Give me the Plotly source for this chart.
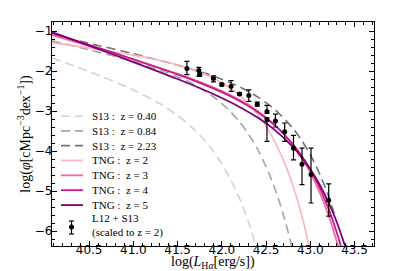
import plotly.graph_objects as go

# ---- S13 Schechter curves ----
s13_040_x = [40.08, 40.5, 41.0, 41.3, 41.5, 41.7, 41.786, 41.9, 42.0, 42.1, 42.2, 42.3, 42.4]
s13_040_y = [-1.675, -2.014, -2.473, -2.820, -3.113, -3.489, -3.688, -3.998, -4.325, -4.717, -5.191, -5.768, -6.477]

s13_084_x = [40.08, 40.5, 41.0, 41.3, 41.5, 41.7, 41.9, 42.0, 42.1, 42.2, 42.3, 42.4, 42.5, 42.6, 42.7, 42.8]
s13_084_y = [-1.247, -1.469, -1.761, -1.972, -2.144, -2.357, -2.637, -2.813, -3.022, -3.272, -3.574, -3.941, -4.390, -4.942, -5.626, -6.471]

s13_223_x = [40.08, 40.5, 41.0, 41.5, 41.8, 42.0, 42.2, 42.4, 42.6, 42.8, 42.9, 43.0, 43.1, 43.2, 43.27]
s13_223_y = [-1.095, -1.308, -1.568, -1.852, -2.050, -2.207, -2.397, -2.640, -2.966, -3.425, -3.727, -4.094, -4.543, -5.095, -5.560]

# ---- TNG curves ----
tng2_x = [40.08, 40.5, 41.0, 41.3, 41.5, 41.7, 41.9, 42.0, 42.1, 42.2, 42.3, 42.4, 42.5, 42.6, 42.7, 42.8, 42.9, 43.0]
tng2_y = [-1.290, -1.425, -1.604, -1.738, -1.848, -1.989, -2.176, -2.295, -2.438, -2.609, -2.818, -3.072, -3.384, -3.770, -4.248, -4.841, -5.581, -6.504]

tng3_x = [40.08, 40.5, 41.0, 41.5, 41.8, 42.0, 42.2, 42.4, 42.6, 42.8, 42.9, 43.0, 43.1, 43.2, 43.3, 43.32]
tng3_y = [-1.101, -1.377, -1.713, -2.071, -2.315, -2.502, -2.722, -2.995, -3.351, -3.840, -4.157, -4.539, -5.003, -5.570, -6.269, -6.425]

tng4_x = [40.08, 40.5, 41.0, 41.5, 41.8, 42.0, 42.2, 42.4, 42.6, 42.8, 42.9, 43.0, 43.1, 43.2, 43.3, 43.35]
tng4_y = [-1.050, -1.346, -1.706, -2.085, -2.339, -2.529, -2.750, -3.017, -3.359, -3.819, -4.113, -4.465, -4.891, -5.409, -6.042, -6.411]

tng5_x = [40.08, 40.5, 41.0, 41.5, 41.8, 42.0, 42.2, 42.4, 42.6, 42.8, 42.9, 43.0, 43.1, 43.2, 43.3, 43.4]
tng5_y = [-1.030, -1.368, -1.776, -2.200, -2.474, -2.674, -2.898, -3.159, -3.479, -3.893, -4.152, -4.456, -4.818, -5.254, -5.782, -6.425]

# ---- L12 + S13 data (scaled to z=2) ----
obs_x = [41.605, 41.74, 41.75, 41.905, 42.0, 42.105, 42.20, 42.305, 42.40, 42.51, 42.51, 42.606, 42.71, 42.81, 42.906, 43.008, 43.208]
obs_y = [-1.94, -1.99, -2.09, -2.19, -2.34, -2.38, -2.575, -2.61, -2.83, -3.01, -3.22, -3.25, -3.52, -3.93, -4.33, -4.59, -5.23]
obs_ep = [0.18, 0.08, 0.04, 0.07, 0.03, 0.14, 0.03, 0.14, 0.05, 0.15, 0.05, 0.17, 0.22, 0.32, 0.40, 0.66, 0.41]
obs_em = [0.15, 0.14, 0.04, 0.08, 0.03, 0.13, 0.03, 0.15, 0.05, 0.05, 0.54, 0.15, 0.24, 0.29, 0.51, 0.71, 0.40]

x_ticks = [40.5, 41.0, 41.5, 42.0, 42.5, 43.0, 43.5]
y_ticks = [-1, -2, -3, -4, -5, -6]

line_names = ["S13 :  z = 0.40", "S13 :  z = 0.84", "S13 :  z = 2.23",
              "TNG :  z = 2", "TNG :  z = 3", "TNG :  z = 4", "TNG :  z = 5"]
data_name = "L12 + S13<br>(scaled to z = 2)"
x_title = "log(<i>L</i><sub>H<i>α</i></sub>[erg/s])"
y_title = "log(<i>φ</i>[cMpc<sup>−3</sup>dex<sup>−1</sup>])"

line_styles = [
    ("#d3d3d3", 1.6, "9px,5px"),
    ("#a5a5a5", 1.6, "9px,5px"),
    ("#747474", 1.6, "9px,5px"),
    ("#fbb4b9", 1.6, "solid"),
    ("#f768a1", 1.8, "solid"),
    ("#c51b8a", 1.8, "solid"),
    ("#7a0177", 1.8, "solid"),
]
series = [(s13_040_x, s13_040_y), (s13_084_x, s13_084_y), (s13_223_x, s13_223_y),
          (tng2_x, tng2_y), (tng3_x, tng3_y), (tng4_x, tng4_y), (tng5_x, tng5_y)]

fig = go.Figure()
for (xs, ys), name, (col, w, dash) in zip(series, line_names, line_styles):
    fig.add_trace(go.Scatter(
        x=xs, y=ys, mode="lines", name=name, showlegend=False,
        line=dict(color=col, width=w, dash=dash, shape="spline", smoothing=0.8),
    ))

fig.add_trace(go.Scatter(
    x=obs_x, y=obs_y, mode="markers", name=data_name, showlegend=False,
    marker=dict(color="black", size=5),
    error_y=dict(type="data", symmetric=False, array=obs_ep, arrayminus=obs_em,
                 color="black", thickness=1.2, width=2.5),
))

# ---- hand-placed legend (compact, like the reference) ----
PX_L, PX_R, PX_T, PX_B = 44, 366, 14, 238
def px2paper(px, py):
    return (px - PX_L) / (PX_R - PX_L), (PX_B - py) / (PX_B - PX_T)

legend_font = dict(family="Liberation Serif", size=11, color="black")
row_y = [108.3, 122.9, 137.6, 152.4, 167.3, 182.2, 197.1]
shapes = []
annotations = []
for (col, w, dash), name, ry in zip(line_styles, line_names, row_y):
    x0, y0 = px2paper(53, ry)
    x1, _ = px2paper(75, ry)
    shapes.append(dict(type="line", xref="paper", yref="paper", x0=x0, x1=x1, y0=y0, y1=y0,
                       line=dict(color=col, width=w, dash=dash)))
    tx, _ = px2paper(82, ry)
    annotations.append(dict(xref="paper", yref="paper", x=tx, y=y0, text=name, showarrow=False,
                            xanchor="left", yanchor="middle", font=legend_font))

# error-bar glyph for the data entry
mx, my = px2paper(63.5, 219)
_, ytop = px2paper(63.5, 213)
_, ybot = px2paper(63.5, 226)
cw = 2.5 / (PX_R - PX_L)
shapes.append(dict(type="line", xref="paper", yref="paper", x0=mx, x1=mx, y0=ybot, y1=ytop,
                   line=dict(color="black", width=1.2)))
for yy in (ytop, ybot):
    shapes.append(dict(type="line", xref="paper", yref="paper", x0=mx - cw, x1=mx + cw, y0=yy, y1=yy,
                       line=dict(color="black", width=1.2)))
rx, ry = 2.5 / (PX_R - PX_L), 2.5 / (PX_B - PX_T)
shapes.append(dict(type="circle", xref="paper", yref="paper", x0=mx - rx, x1=mx + rx, y0=my - ry, y1=my + ry,
                   fillcolor="black", line=dict(color="black", width=0)))
tx, ty = px2paper(82, 217)
annotations.append(dict(xref="paper", yref="paper", x=tx, y=ty, text=data_name, showarrow=False,
                        xanchor="left", yanchor="middle", align="left", font=legend_font))

# x-axis title placed just under the tick labels
xt_x, xt_y = px2paper(205, 254)
annotations.append(dict(xref="paper", yref="paper", x=xt_x, y=xt_y, text=x_title, showarrow=False,
                        xanchor="center", yanchor="middle",
                        font=dict(family="Liberation Serif", size=14, color="black")))

axis_common = dict(
    showline=True, linecolor="black", linewidth=1.3, mirror="allticks",
    ticks="inside", ticklen=5, tickwidth=1.1, tickcolor="black",
    showgrid=False, zeroline=False, automargin=False,
    tickfont=dict(family="DejaVu Sans", size=12, color="black"),
)

fig.update_layout(
    width=407, height=271,
    margin=dict(l=44, r=41, t=14, b=33),
    paper_bgcolor="white", plot_bgcolor="white",
    showlegend=False,
    shapes=shapes, annotations=annotations,
    xaxis=dict(
        range=[40.08, 43.72], tickvals=x_ticks, tickformat=".1f",
        ticklabelstandoff=-8,
        minor=dict(dtick=0.1, tick0=40.0, ticks="inside", ticklen=3, tickcolor="black", showgrid=False),
        **axis_common,
    ),
    yaxis=dict(
        range=[-6.375, -0.775], tickvals=y_ticks,
        ticklabelstandoff=-4,
        minor=dict(dtick=0.2, tick0=0, ticks="inside", ticklen=3, tickcolor="black", showgrid=False),
        title=dict(text=y_title,
                   font=dict(family="Liberation Serif", size=14, color="black"), standoff=0),
        **axis_common,
    ),
)

fig.write_html("out.html")
